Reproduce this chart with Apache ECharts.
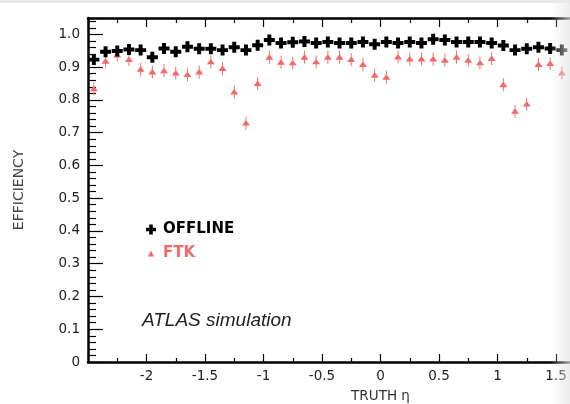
<!DOCTYPE html>
<html>
<head>
<meta charset="utf-8">
<script src="https://cdn.jsdelivr.net/npm/echarts@6/dist/echarts.min.js"></script>
<style>
html,body{margin:0;padding:0;background:#fff;}
#chart{width:570px;height:404px;}
</style>
</head>
<body>
<div id="chart"></div>
<script>
// Bin centres of truth eta (visible part of the plot)
const etaCenters = [-2.45,-2.35,-2.25,-2.15,-2.05,-1.95,-1.85,-1.75,-1.65,-1.55,
  -1.45,-1.35,-1.25,-1.15,-1.05,-0.95,-0.85,-0.75,-0.65,-0.55,
  -0.45,-0.35,-0.25,-0.15,-0.05,0.05,0.15,0.25,0.35,0.45,
  0.55,0.65,0.75,0.85,0.95,1.05,1.15,1.25,1.35,1.45,1.55];
const offlineEff = [0.923,0.947,0.949,0.954,0.952,0.930,0.957,0.947,0.962,0.956,
  0.956,0.952,0.961,0.952,0.967,0.983,0.974,0.976,0.978,0.974,
  0.977,0.974,0.974,0.977,0.970,0.977,0.974,0.977,0.974,0.985,
  0.983,0.977,0.977,0.977,0.974,0.966,0.952,0.956,0.961,0.957,0.952];
const ftkEff = [0.834,0.918,0.937,0.923,0.893,0.885,0.889,0.882,0.877,0.885,
  0.916,0.896,0.824,0.729,0.850,0.930,0.915,0.913,0.930,0.916,
  0.930,0.930,0.923,0.908,0.875,0.869,0.931,0.925,0.925,0.925,
  0.921,0.930,0.921,0.913,0.926,0.846,0.765,0.787,0.908,0.911,0.882];
const seriesNames = ['OFFLINE','FTK'];
const xTitle = 'TRUTH η';
const yTitle = 'EFFICIENCY';
const note = 'ATLAS simulation';

const RED = '#f26a6a';
const PLUS = 'path://M3.2,0H6.8V3.2H10V6.8H6.8V10H3.2V6.8H0V3.2H3.2Z';
const TRI_ERR = 'path://M4.4,0H5.6V16H4.4Z M5,4L10,11H0Z';

const chart = echarts.init(document.getElementById('chart'), null, {renderer:'canvas'});
const axisFont = {fontFamily:'DejaVu Sans', fontSize:13.5, color:'#222'};
const option = {
  animation:false,
  backgroundColor:'#fff',
  grid:{left:88, top:18, right:-103, bottom:42, containLabel:false, outerBoundsMode:'none'},
  xAxis:[{
    type:'value', min:-2.5, max:2.5, interval:0.5, position:'bottom',
    axisLine:{show:true, onZero:false, lineStyle:{color:'#000', width:2.5}},
    axisTick:{show:true, inside:true, length:8, lineStyle:{color:'#000', width:1.2}},
    minorTick:{show:true, splitNumber:2, length:4, lineStyle:{color:'#000', width:1.2}},
    splitLine:{show:false},
    axisLabel:{...axisFont, margin:7, formatter:v => (Math.abs(v+2.5)<1e-6 ? '' : String(v))},
    name:xTitle, nameLocation:'middle', nameGap:27,
    nameTextStyle:{fontFamily:'DejaVu Sans', fontSize:13.5, color:'#333'}
  },{
    type:'value', min:-2.5, max:2.5, interval:0.5, position:'top',
    axisLine:{show:true, onZero:false, lineStyle:{color:'#000', width:2.5}},
    axisTick:{show:true, inside:true, length:9, lineStyle:{color:'#000', width:1.2}},
    minorTick:{show:true, splitNumber:2, length:5, lineStyle:{color:'#000', width:1.2}},
    splitLine:{show:false},
    axisLabel:{show:false}
  }],
  yAxis:{
    type:'value', min:0, max:1.05, interval:0.1,
    axisLine:{show:true, onZero:false, lineStyle:{color:'#000', width:2.5}},
    axisTick:{show:true, inside:true, length:15, lineStyle:{color:'#000', width:1.2}},
    minorTick:{show:true, splitNumber:5, length:8, lineStyle:{color:'#000', width:1.2}},
    splitLine:{show:false},
    axisLabel:{...axisFont, margin:8, formatter:v => (v > 1.0001 ? '' : (v===0 ? '0' : v.toFixed(1)))},
    name:yTitle, nameLocation:'middle', nameGap:62, nameRotate:90,
    nameTextStyle:{fontFamily:'DejaVu Sans', fontSize:14, color:'#444'}
  },
  legend:[{
    data:[{name:seriesNames[0], icon:PLUS}], orient:'vertical', left:141, top:217,
    itemWidth:10, itemHeight:10, selectedMode:false,
    textStyle:{fontFamily:'DejaVu Sans', fontWeight:'bold', fontSize:15, color:'#000', padding:[0,0,0,2]}
  },{
    data:[{name:seriesNames[1], icon:'triangle'}], orient:'vertical', left:143, top:241,
    itemWidth:6, itemHeight:6, selectedMode:false,
    textStyle:{fontFamily:'DejaVu Sans', fontWeight:'bold', fontSize:15, color:RED, padding:[0,0,0,4]}
  }],
  graphic:[
    {type:'text', left:142, top:311, z:10,
     style:{text:note, font:'italic 19px "Liberation Sans", Arial, sans-serif', fill:'#222'}},
    {type:'rect', left:0, top:0, z:100, shape:{width:570, height:3}, style:{fill:'#e8e8e8'}},
    {type:'rect', left:550, top:3, z:100, shape:{width:20, height:401},
     style:{fill:new echarts.graphic.LinearGradient(0,0,1,0,[
       {offset:0, color:'rgba(232,232,232,0)'},{offset:1, color:'rgba(228,228,228,0.7)'}])}}
  ],
  series:[{
    name:seriesNames[1], type:'scatter', xAxisIndex:0,
    symbol:TRI_ERR, symbolSize:[8,13], itemStyle:{color:RED, opacity:1},
    data:etaCenters.map((x,i)=>[x, ftkEff[i]]), z:3
  },{
    name:seriesNames[0], type:'scatter', xAxisIndex:0,
    symbol:PLUS, symbolSize:11, itemStyle:{color:'#000', opacity:1},
    data:etaCenters.map((x,i)=>[x, offlineEff[i]]), z:4
  }]
};
chart.setOption(option);
</script>
</body>
</html>
